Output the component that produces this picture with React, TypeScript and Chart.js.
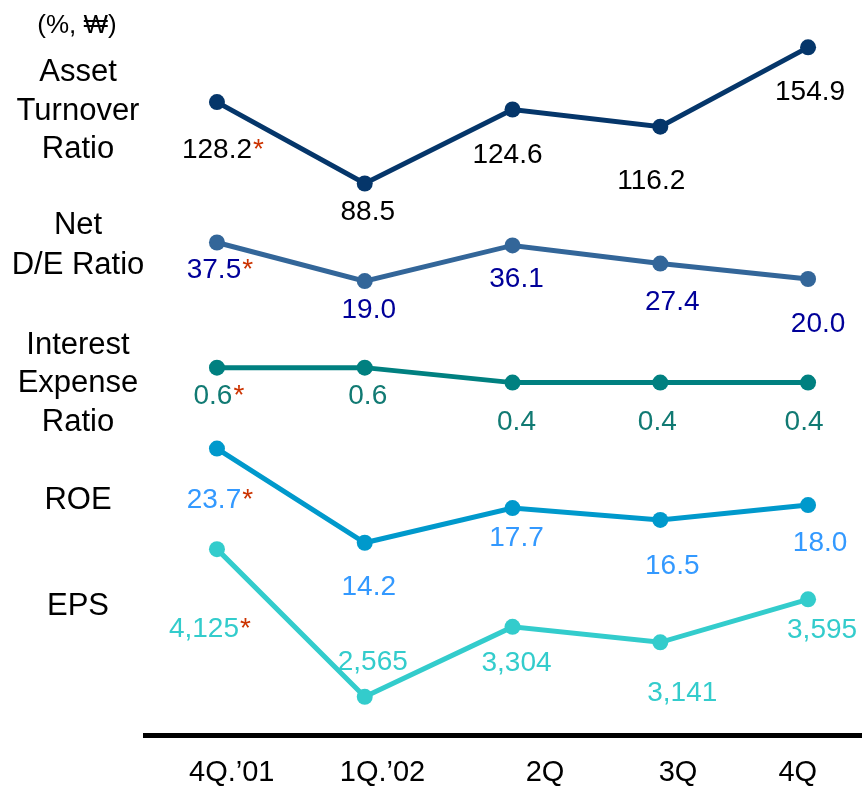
import React, { useEffect, useRef } from 'react';
import { Chart, registerables } from 'chart.js';

Chart.register(...registerables);

const FONT = "'Liberation Sans', Arial, Helvetica, sans-serif";

// ---- categories ----
const quarters = ['4Q.’01', '1Q.’02', '2Q', '3Q', '4Q'];

// ---- series values ----
const assetTurnover = [128.2, 88.5, 124.6, 116.2, 154.9];
const netDebtToEquity = [37.5, 19.0, 36.1, 27.4, 20.0];
const interestExpense = [0.6, 0.6, 0.4, 0.4, 0.4];
const roe = [23.7, 14.2, 17.7, 16.5, 18.0];
const eps = [4125, 2565, 3304, 3141, 3595];

// ---- texts ----
const unitLabel = '(%, ₩)';
const seriesTitles = [
  ['Asset', 'Turnover', 'Ratio'],
  ['Net', 'D/E Ratio'],
  ['Interest', 'Expense', 'Ratio'],
  ['ROE'],
  ['EPS'],
];
const noteMark = '*';

// ---- layout / style (not data) ----
const X_TICK_SLOTS = [0.10, 1.12, 2.22, 3.12, 3.93];
const NOTE_COLOR = '#CC3300';

type SeriesCfg = {
  id: string;
  values: number[];
  title: string[];
  decimals: number;
  line: string;
  text: string;
  range: [number, number];
  titleY: number[];
  offsets: [number, number][];
};

const SERIES: SeriesCfg[] = [
  {
    id: 'yAsset', values: assetTurnover, title: seriesTitles[0], decimals: 1,
    line: '#05366A', text: '#000000', range: [-180.6, 178.0], titleY: [72, 111, 149],
    offsets: [[0, 48], [3, 29], [-5, 46], [-9, 55], [2, 45]],
  },
  {
    id: 'yNetDE', values: netDebtToEquity, title: seriesTitles[1], decimals: 1,
    line: '#336699', text: '#000099', range: [-198.6, 153.7], titleY: [225, 265],
    offsets: [[-3, 28], [4, 29], [4, 34], [12, 39], [10, 45]],
  },
  {
    id: 'yInterest', values: interestExpense, title: seriesTitles[2], decimals: 1,
    line: '#008080', text: '#117A73', range: [-4.306, 5.507], titleY: [345, 383, 422],
    offsets: [[-4, 29], [3, 29], [4, 40], [-3, 40], [-4, 40]],
  },
  {
    id: 'yRoe', values: roe, title: seriesTitles[3], decimals: 1,
    line: '#0099CC', text: '#3399FF', range: [-5.22, 68.97], titleY: [500],
    offsets: [[-3, 52], [4, 45], [4, 30], [12, 46], [12, 38]],
  },
  {
    id: 'yEps', values: eps, title: seriesTitles[4], decimals: 0,
    line: '#33CCCC', text: '#33CCCC', range: [2160, 9924], titleY: [606],
    offsets: [[-13, 80], [8, -35], [4, 36], [22, 51], [14, 31]],
  },
];

const fmt = (v: number, decimals: number) =>
  decimals === 0 ? v.toLocaleString('en-US') : v.toFixed(decimals);

const labelPlugin = {
  id: 'valueLabelsAndTitles',
  afterDatasetsDraw(chart: any) {
    const ctx = chart.ctx as CanvasRenderingContext2D;
    ctx.save();
    ctx.textBaseline = 'middle';

    // value labels
    ctx.font = `28px ${FONT}`;
    SERIES.forEach((s, di) => {
      const meta = chart.getDatasetMeta(di);
      meta.data.forEach((pt: any, i: number) => {
        const [dx, dy] = s.offsets[i];
        const txt = fmt(s.values[i], s.decimals);
        const x = pt.x + dx;
        const y = pt.y + dy;
        ctx.textAlign = 'center';
        ctx.fillStyle = s.text;
        ctx.fillText(txt, x, y);
        if (i === 0) {
          const w = ctx.measureText(txt).width;
          ctx.textAlign = 'left';
          ctx.fillStyle = NOTE_COLOR;
          ctx.fillText(noteMark, x + w / 2 + 1, y);
        }
      });
    });

    // series titles
    ctx.textAlign = 'center';
    ctx.fillStyle = '#000000';
    ctx.font = `31px ${FONT}`;
    SERIES.forEach((s) => {
      s.title.forEach((line, k) => ctx.fillText(line, 78, s.titleY[k]));
    });

    // unit label
    ctx.font = `26px ${FONT}`;
    ctx.fillText(unitLabel, 77, 26);

    ctx.restore();
  },
};

export default function App() {
  const ref = useRef<HTMLCanvasElement>(null);

  useEffect(() => {
    const canvas = ref.current;
    if (!canvas) return;

    const scales: any = {
      x: {
        type: 'linear',
        position: 'bottom',
        min: -0.487,
        max: 4.365,
        bounds: 'data',
        grid: { display: false, drawTicks: false },
        border: { display: true, color: '#000000', width: 5 },
        afterBuildTicks: (axis: any) => {
          axis.ticks = X_TICK_SLOTS.map((v) => ({ value: v }));
        },
        afterFit: (axis: any) => {
          axis.paddingLeft = 0;
          axis.paddingRight = 0;
        },
        ticks: {
          autoSkip: false,
          maxRotation: 0,
          minRotation: 0,
          padding: 20,
          color: '#000000',
          font: { family: FONT, size: 29 },
          callback: (_v: any, i: number) => quarters[i] ?? '',
        },
      },
    };
    SERIES.forEach((s) => {
      scales[s.id] = { type: 'linear', display: false, min: s.range[0], max: s.range[1] };
    });

    const chart = new Chart(canvas, {
      type: 'line',
      data: {
        datasets: SERIES.map((s) => ({
          label: s.title.join(' '),
          data: s.values.map((v, i) => ({ x: i, y: v })),
          yAxisID: s.id,
          borderColor: s.line,
          backgroundColor: s.line,
          pointBackgroundColor: s.line,
          pointBorderColor: s.line,
          borderWidth: 5,
          pointRadius: 8,
          pointHoverRadius: 8,
          pointBorderWidth: 0,
          tension: 0,
          fill: false,
          clip: false as any,
        })),
      },
      options: {
        animation: false,
        responsive: false,
        events: [],
        layout: { autoPadding: false, padding: { left: 145, right: 0, top: 0, bottom: 0 } },
        plugins: { legend: { display: false }, tooltip: { enabled: false } },
        scales,
      },
      plugins: [labelPlugin],
    });

    return () => chart.destroy();
  }, []);

  return (
    <div
      style={{
        position: 'absolute',
        left: 0,
        top: 0,
        width: 862,
        height: 786,
        overflow: 'hidden',
        background: '#ffffff',
      }}
    >
      <canvas
        ref={ref}
        width={862}
        height={810}
        style={{ display: 'block', width: 862, height: 810 }}
      />
    </div>
  );
}
